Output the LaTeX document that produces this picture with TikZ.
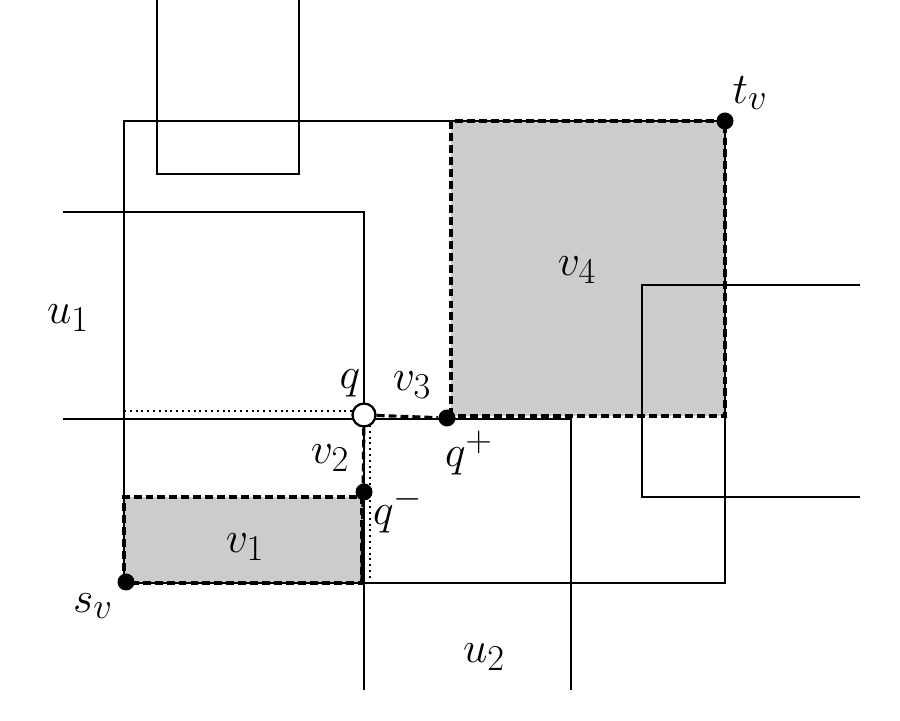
\documentclass[tikz,border=0pt]{standalone}
\usepackage{tikz}

\tikzset{
  blk/.style={fill=black!20},
  cut/.style={line width=1.8pt,dash pattern=on 4.5pt off 2.3pt},
  pt/.style={circle,fill=black,inner sep=0pt,minimum size=0.34cm},
  lbl/.style={font=\fontsize{31}{37}\selectfont}
}

\begin{document}
\begin{tikzpicture}
\begin{scope}[scale=.2]
	\useasboundingbox (0,0) rectangle (90,72.1);
	% shaded pieces
	\fill[blk] (12.4,13.8) rectangle (36.2,22.4);
	\fill[blk] (45.1,30.5) rectangle (72.5,60);
	% neighbouring boxes
	\draw[line width=0.6pt] (15.7,72.1)--(15.7,54.7)--(29.9,54.7)--(29.9,72.1);
	\draw[line width=0.6pt] (6.3,50.9)--(36.4,50.9)--(36.4,3.1);
	\draw[line width=0.6pt] (6.3,30.2)--(57.1,30.2)--(57.1,3.1);
	\draw[line width=0.6pt] (86,43.6)--(64.2,43.6)--(64.2,22.4)--(86,22.4);
	% the box of v
	\draw[line width=1.3pt] (12.4,13.8) rectangle (72.5,60);
	% pieces
	\draw[cut] (12.4,13.8) rectangle (36.2,22.4);
	\draw[cut] (45.1,30.5) rectangle (72.5,60);
	\draw[line width=1.1pt,dash pattern=on 1.1pt off 2.2pt] (12.4,31.0)--(35.3,31.0);
	\draw[line width=1.1pt,dash pattern=on 1.1pt off 2.2pt] (37.0,29.6)--(37.0,13.8);
	\node[pt] (sv) at (12.6,13.9) {};
	\node[pt] (tv) at (72.5,60) {};
	\node[pt] (qm) at (36.4,22.9) {};
	\node[pt] (qp) at (44.7,30.3) {};
	\node[circle,draw,line width=1.3pt,fill=white,inner sep=0pt,minimum size=0.46cm] (q) at (36.4,30.6) {};
	\draw[cut] (q)--(36.2,13.8);
	\draw[cut] (q)--(qp);
	% labels
	\node[lbl] (lu1) at (6.8,40.3) {$u_1$};
	\node[lbl] (lu2) at (48.4,6.4) {$u_2$};
	\node[lbl] (lv1) at (24.5,17.4) {$v_1$};
	\node[lbl] (lv2) at (33.0,26.3) {$v_2$};
	\node[lbl] (lv3) at (41.2,33.6) {$v_3$};
	\node[lbl] (lv4) at (57.7,45.1) {$v_4$};
	\node[lbl] (lq) at (35.0,33.8) {$q$};
	\node[lbl] (lqm) at (39.8,21.1) {$q^-$};
	\node[lbl] (lqp) at (46.9,26.8) {$q^+$};
	\node[lbl] (lsv) at (9.3,11.5) {$s_v$};
	\node[lbl] (ltv) at (75.0,62.8) {$t_v$};
\end{scope}
\end{tikzpicture}
\end{document}
